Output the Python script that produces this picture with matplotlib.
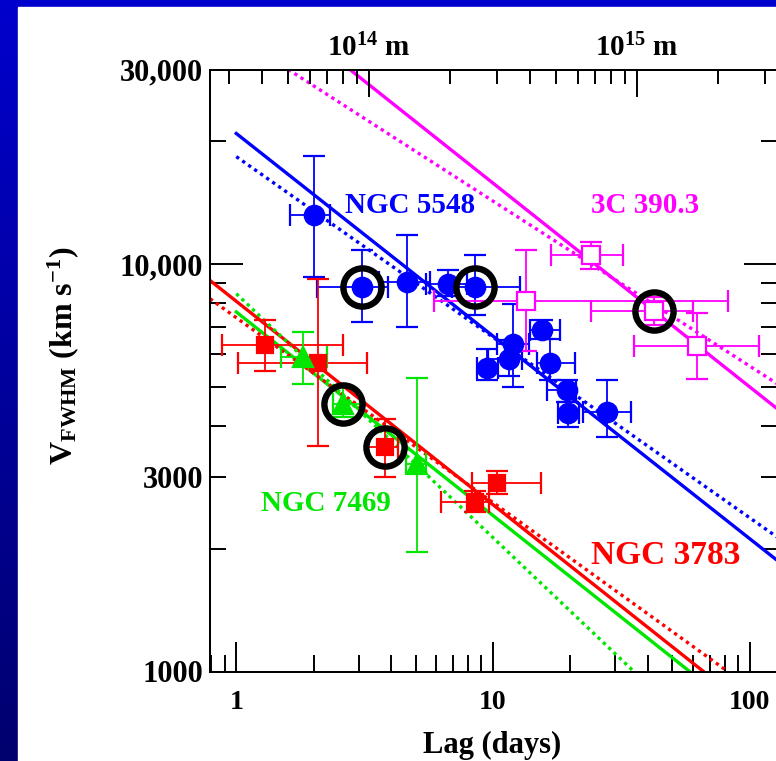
import numpy as np
import matplotlib
matplotlib.use('Agg')
import matplotlib.pyplot as plt
from matplotlib.ticker import FixedLocator, FuncFormatter, NullFormatter, LogLocator
from matplotlib.colors import LinearSegmentedColormap
from matplotlib.patches import Rectangle

plt.rcParams['font.family'] = ['Liberation Serif', 'DejaVu Serif']
plt.rcParams['font.weight'] = 'bold'
plt.rcParams['mathtext.fontset'] = 'custom'
plt.rcParams['mathtext.rm'] = 'Liberation Serif:bold'
plt.rcParams['mathtext.it'] = 'Liberation Serif:bold:italic'
plt.rcParams['mathtext.bf'] = 'Liberation Serif:bold'

# NGC 5548 (lag in days, FWHM in km/s)
lag_5548 = [2.0, 3.08, 4.61, 6.70, 8.51, 9.45, 11.5, 12.0, 15.5, 16.7, 19.4, 19.65, 27.7]
lag_5548_lo = [1.62, 2.06, 3.6, 5.5, 6.9, 8.65, 9.6, 10.4, 13.9, 14.9, 16.3, 17.9, 22.5]
lag_5548_hi = [2.32, 3.9, 5.7, 7.9, 12.7, 10.5, 13.0, 13.8, 18.2, 20.8, 21.1, 21.7, 34.5]
fwhm_5548 = [13150, 8770, 9020, 8930, 8770, 5570, 5860, 6370, 6870, 5720, 4900, 4300, 4340]
fwhm_5548_lo = [9290, 7200, 7000, 8360, 7480, 5180, 5300, 5000, 6530, 5180, 4590, 3980, 3760]
fwhm_5548_hi = [18450, 10790, 11750, 9640, 10500, 6200, 6500, 7980, 7280, 6530, 5180, 4590, 5180]

# 3C 390.3
lag_3c = [13.45, 24.2, 42.5, 62.2]
lag_3c_lo = [5.9, 16.9, 24.2, 35.5]
lag_3c_hi = [82.0, 32.0, 60.0, 108.8]
fwhm_3c = [8110, 10500, 7650, 6290]
fwhm_3c_lo = [6130, 9730, 7070, 5210]
fwhm_3c_hi = [10790, 11300, 8300, 7570]

# NGC 3783
lag_3783 = [1.294, 2.075, 3.80, 8.51, 10.38]
lag_3783_lo = [0.877, 1.02, 3.22, 6.27, 8.26]
lag_3783_hi = [2.61, 3.22, 4.27, 9.63, 15.4]
fwhm_3783 = [6340, 5715, 3557, 2607, 2902]
fwhm_3783_lo = [5460, 3574, 3002, 2464, 2732]
fwhm_3783_hi = [7300, 9200, 4175, 2780, 3104]

# NGC 7469
lag_7469 = [1.82, 2.61, 5.04]
lag_7469_lo = [1.50, 2.38, 4.6]
lag_7469_hi = [2.25, 3.03, 5.5]
fwhm_7469 = [5910, 4540, 3236]
fwhm_7469_lo = [5080, 4220, 1966]
fwhm_7469_hi = [6810, 4990, 5260]

# circled points (index into each set)
ring_5548 = [1, 4]
ring_3c = [2]
ring_3783 = [2]
ring_7469 = [1]

# virial fits (solid) and free-slope fits (dotted): end points (lag, fwhm)
fit_5548 = ([1.0, 127.8], [20900, 1875])
fit_5548_free = ([1.0, 127.8], [18340, 2138])
fit_3c = ([2.77, 127.8], [30000, 4417])
fit_3c_free = ([1.594, 127.8], [30000, 5086])
fit_3783 = ([0.79, 66.1], [9110, 1000])
fit_3783_free = ([0.79, 82.2], [8215, 1000])
fit_7469 = ([1.0, 58.4], [7625, 1000])
fit_7469_free = ([1.0, 35.4], [8453, 1000])

BLUE = '#0000ff'
MAGENTA = '#ff00ff'
RED = '#ff0000'
GREEN = '#00e600'

fig = plt.figure(figsize=(7.76, 7.61), dpi=100)

# slide frame: blue gradient bars left and top
bg = fig.add_axes([0, 0, 1, 1], zorder=-5)
frame_cmap = LinearSegmentedColormap.from_list('frame', ['#0000cd', '#00006e'])
bg.imshow(np.linspace(0, 1, 256)[:, None], cmap=frame_cmap, aspect='auto',
          extent=[0, 1, 0, 1], origin='upper')
bg.add_patch(Rectangle((17.5 / 776, 0), 1, 1 - 6.5 / 761, color='white'))
bg.set_xlim(0, 1)
bg.set_ylim(0, 1)
bg.axis('off')

ax = fig.add_axes([210 / 776, 89.5 / 761, 567 / 776, 602 / 761])
ax.set_xscale('log')
ax.set_yscale('log')
ax.set_xlim(0.79, 127.8)
ax.set_ylim(1000, 30000)

dot = (0, (1.0, 1.2))
for (fx, fy), col in [(fit_5548, BLUE), (fit_3c, MAGENTA), (fit_3783, RED), (fit_7469, GREEN)]:
    ax.plot(fx, fy, color=col, lw=2.4, zorder=2)
for (fx, fy), col in [(fit_5548_free, BLUE), (fit_3c_free, MAGENTA),
                      (fit_3783_free, RED), (fit_7469_free, GREEN)]:
    ax.plot(fx, fy, color=col, lw=2.4, ls=dot, zorder=2)


def draw_set(lag, lo, hi, v, vlo, vhi, color, marker, ms, face, rings):
    lag = np.array(lag)
    v = np.array(v)
    xerr = [lag - np.array(lo), np.array(hi) - lag]
    yerr = [v - np.array(vlo), np.array(vhi) - v]
    ax.errorbar(lag, v, xerr=xerr, yerr=yerr, fmt=marker, ms=ms, mfc=face,
                mec=color, mew=1.6, ecolor=color, elinewidth=1.3, capsize=8,
                capthick=1.3, zorder=3)
    ax.plot(lag[rings], v[rings], 'o', ms=27.5, mfc='none', mec='black',
            mew=4.6, zorder=5)


draw_set(lag_5548, lag_5548_lo, lag_5548_hi, fwhm_5548, fwhm_5548_lo, fwhm_5548_hi,
         BLUE, 'o', 14, BLUE, ring_5548)
draw_set(lag_3c, lag_3c_lo, lag_3c_hi, fwhm_3c, fwhm_3c_lo, fwhm_3c_hi,
         MAGENTA, 's', 13.5, 'white', ring_3c)
draw_set(lag_3783, lag_3783_lo, lag_3783_hi, fwhm_3783, fwhm_3783_lo, fwhm_3783_hi,
         RED, 's', 11.5, RED, ring_3783)
draw_set(lag_7469, lag_7469_lo, lag_7469_hi, fwhm_7469, fwhm_7469_lo, fwhm_7469_hi,
         GREEN, '^', 15, GREEN, ring_7469)

ax.text(2.65, 13910, 'NGC 5548', color=BLUE, fontsize=21, va='center', ha='left')
ax.text(24.2, 13910, '3C 390.3', color=MAGENTA, fontsize=21, va='center', ha='left')
ax.text(1.248, 2588, 'NGC 7469', color=GREEN, fontsize=21, va='center', ha='left')
ax.text(24.2, 1924, 'NGC 3783', color=RED, fontsize=24, va='center', ha='left')

# bottom axis: lag in days
ax.xaxis.set_major_formatter(FuncFormatter(lambda v, p: f'{v:g}'))
ax.xaxis.set_minor_formatter(NullFormatter())
ax.tick_params(axis='x', which='both', direction='in', top=False, width=1.4,
               labelsize=20, pad=13)
ax.tick_params(axis='x', which='major', length=21.6)
ax.tick_params(axis='x', which='minor', length=12.2)

# left/right axis: velocity
y_major = [1000, 10000]
y_minor = [2000, 3000, 4000, 5000, 6000, 7000, 8000, 9000, 20000, 30000]
y_named = {1000: '1000', 3000: '3000', 10000: '10,000', 30000: '30,000'}
ax.yaxis.set_major_locator(FixedLocator(y_major))
ax.yaxis.set_minor_locator(FixedLocator(y_minor))
ax.yaxis.set_major_formatter(FuncFormatter(lambda v, p: y_named.get(int(round(v)), '')))
ax.yaxis.set_minor_formatter(FuncFormatter(lambda v, p: y_named.get(int(round(v)), '')))
ax.tick_params(axis='y', which='both', direction='in', right=True, width=1.4,
               labelsize=22, pad=5)
ax.tick_params(axis='y', which='major', length=23.8)
ax.tick_params(axis='y', which='minor', length=11.5)

for s in ax.spines.values():
    s.set_linewidth(1.4)

# top axis: distance in metres
ax2 = ax.twiny()
ax2.set_xscale('log')
ax2.set_xlim(2.551e13, 3.331e15)
ax2.xaxis.set_major_locator(FixedLocator([1e14, 1e15]))
ax2.xaxis.set_minor_locator(LogLocator(base=10, subs=np.arange(2, 10)))
ax2.xaxis.set_major_formatter(FuncFormatter(
    lambda v, p: r'$10^{%d}$ m' % int(round(np.log10(v)))))
ax2.xaxis.set_minor_formatter(NullFormatter())
ax2.tick_params(axis='x', which='both', direction='in', width=1.4, labelsize=21, pad=5)
ax2.tick_params(axis='x', which='major', length=19.4)
ax2.tick_params(axis='x', which='minor', length=10)
for s in ax2.spines.values():
    s.set_linewidth(1.4)

fig.text(492.6 / 776, 1 - 753 / 761, 'Lag (days)', fontsize=22, ha='center',
         va='baseline')
fig.text(63 / 776, 1 - 356 / 761, r'V$_{\mathrm{FWHM}}$ (km s$^{-1}$)', fontsize=23,
         rotation=90, ha='center', va='center')

fig.savefig('out.png', dpi=100)
